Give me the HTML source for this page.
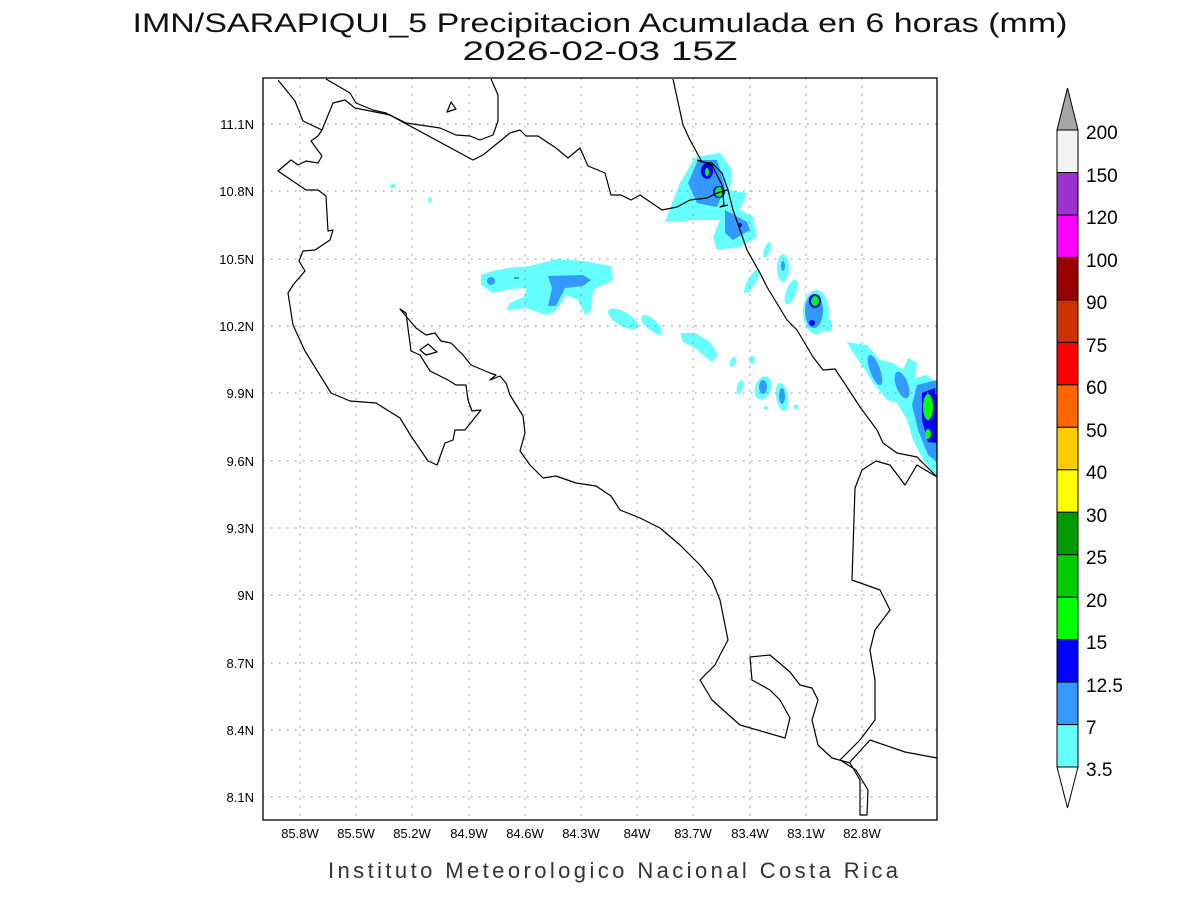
<!DOCTYPE html>
<html><head><meta charset="utf-8"><style>
html,body{margin:0;padding:0;background:#fff;}
svg{display:block;font-family:"Liberation Sans",sans-serif;}
</style></head><body>
<svg width="1200" height="900" viewBox="0 0 1200 900" xmlns="http://www.w3.org/2000/svg">
<rect width="1200" height="900" fill="#fff"/>
<text x="600" y="32" font-size="27" text-anchor="middle" textLength="935" lengthAdjust="spacingAndGlyphs" fill="#111">IMN/SARAPIQUI_5 Precipitacion Acumulada en 6 horas (mm)</text>
<text x="600" y="60" font-size="27" text-anchor="middle" textLength="275" lengthAdjust="spacingAndGlyphs" fill="#111">2026-02-03 15Z</text>
<text x="613" y="878" font-size="22" text-anchor="middle" textLength="570" lengthAdjust="spacing" fill="#333">Instituto Meteorologico Nacional Costa Rica</text>

<g stroke="none">
<path fill="#66ffff" d="M481,275 L493,271 508,268 530,266 556,259 583,261 611,266 613,280 593,290 591,311 585,315 578,300 566,295 556,311 546,315 526,308 506,310 510,303 525,296 526,288 510,289 493,293 481,285 Z"/>
<path fill="#3399ff" d="M548,276 L583,275 591,280 583,286 565,288 556,306 548,306 552,288 Z"/>
<circle cx="491" cy="281" r="4" fill="#3399ff"/>
<rect x="514" y="277" width="5" height="2" fill="#3399ff"/>
<ellipse cx="623" cy="319" rx="17" ry="7" transform="rotate(30 623 319)" fill="#66ffff"/>
<ellipse cx="652" cy="325" rx="13" ry="5" transform="rotate(45 652 325)" fill="#66ffff"/>
<ellipse cx="393" cy="186" rx="3" ry="2" fill="#66ffff"/>
<ellipse cx="430" cy="200" rx="2" ry="3" fill="#66ffff"/>
<path fill="#66ffff" d="M665,222 L672,203 680,183 695,157 720,153 732,170 730,190 747,193 740,210 753,217 757,237 740,247 717,250 713,237 720,220 697,220 Z"/>
<path fill="#3399ff" d="M688,183 L698,160 717,160 725,187 717,207 697,203 Z"/>
<path fill="#3399ff" d="M725,210 L747,222 750,230 733,240 725,233 Z"/>
<ellipse cx="707" cy="171" rx="6" ry="8" fill="#0000ff"/>
<ellipse cx="707" cy="172" rx="2" ry="4" fill="#00ff00"/>
<ellipse cx="719" cy="192" rx="6" ry="6" fill="#0000ff"/>
<ellipse cx="719" cy="192" rx="4" ry="5" fill="#00ff00"/>
<circle cx="740" cy="225" r="2" fill="#0000ff"/>
<ellipse cx="767" cy="250" rx="3" ry="8" transform="rotate(20 767 250)" fill="#66ffff"/>
<ellipse cx="783" cy="268" rx="6" ry="14" fill="#66ffff"/>
<ellipse cx="783" cy="266" rx="2" ry="5" fill="#3399ff"/>
<ellipse cx="752" cy="281" rx="4" ry="14" transform="rotate(30 752 281)" fill="#66ffff"/>
<ellipse cx="791" cy="292" rx="5" ry="13" transform="rotate(20 791 292)" fill="#66ffff"/>
<ellipse cx="816" cy="312" rx="13" ry="22" fill="#66ffff"/>
<ellipse cx="827" cy="325" rx="5" ry="7" fill="#66ffff"/>
<ellipse cx="814" cy="311" rx="9" ry="17" fill="#3399ff"/>
<ellipse cx="815" cy="301" rx="6" ry="7" fill="#0000ff"/>
<ellipse cx="815" cy="301" rx="4" ry="5" fill="#00ff00"/>
<circle cx="812" cy="323" r="3" fill="#0000ff"/>
<ellipse cx="651" cy="324" rx="12" ry="5" transform="rotate(35 651 324)" fill="#66ffff"/>
<path fill="#66ffff" d="M680,333 L695,333 710,342 718,355 712,362 703,355 695,348 683,342 Z"/>
<ellipse cx="733" cy="362" rx="3" ry="5" transform="rotate(20 733 362)" fill="#66ffff"/>
<ellipse cx="752" cy="360" rx="3" ry="4" fill="#66ffff"/>
<ellipse cx="740" cy="387" rx="3" ry="7" transform="rotate(15 740 387)" fill="#66ffff"/>
<ellipse cx="763" cy="388" rx="8" ry="12" transform="rotate(20 763 388)" fill="#66ffff"/>
<ellipse cx="763" cy="387" rx="4" ry="7" fill="#3399ff"/>
<ellipse cx="782" cy="397" rx="6" ry="14" transform="rotate(-10 782 397)" fill="#66ffff"/>
<ellipse cx="782" cy="396" rx="3" ry="8" fill="#3399ff"/>
<circle cx="766" cy="408" r="2" fill="#66ffff"/>
<circle cx="796" cy="407" r="2.5" fill="#66ffff"/>
<path fill="#66ffff" d="M847,342 L867,345 880,360 893,363 903,370 908,358 917,363 915,378 927,375 937,383 937,477 923,460 913,440 907,420 897,403 887,400 873,383 863,367 853,353 Z"/>
<ellipse cx="875" cy="370" rx="5" ry="16" transform="rotate(-20 875 370)" fill="#3399ff"/>
<ellipse cx="902" cy="385" rx="6" ry="14" transform="rotate(-20 902 385)" fill="#3399ff"/>
<path fill="#3399ff" d="M917,385 L937,380 937,462 928,455 918,430 912,405 Z"/>
<path fill="#0000ff" d="M922,393 L935,388 937,400 937,443 928,442 922,420 Z"/>
<ellipse cx="928" cy="407" rx="5" ry="13" fill="#00ff00"/>
<ellipse cx="928" cy="434" rx="3" ry="5" fill="#00ff00"/>
</g>

<g stroke="#999" stroke-width="1.2" stroke-dasharray="1.5,6.5" fill="none">
<path d="M300,78V820 M356,78V820 M412,78V820 M469,78V820 M525,78V820 M581,78V820 M637,78V820 M693,78V820 M750,78V820 M806,78V820 M862,78V820"/>
<path d="M263,124H937 M263,191H937 M263,259H937 M263,326H937 M263,393H937 M263,461H937 M263,528H937 M263,595H937 M263,663H937 M263,730H937 M263,797H937"/>
</g>

<g stroke="#000" stroke-width="1.2" fill="none" stroke-linejoin="round">
<path d="M278,80 L295,101 303,121 322,130 333,103 345,100 355,108 370,111 390,115 406,123 420,125 440,128 456,135 470,136 480,140 493,135 498,121 498,95 491,79"/>
<path d="M326,79 L350,93 356,103 373,110 386,113 473,160 483,155 510,133 520,130 526,136 538,136 556,148 568,158 580,148 588,166 605,173 611,195 621,195 631,200 640,195 662,210 677,207 690,200 707,198 717,193 727,190"/>
<path d="M673,79 L683,125 690,140 702,162 712,163 722,173 728,190 733,210 740,230 747,250 760,273 767,287 787,320 797,330 813,357 823,370 835,369 847,387 860,407 877,430 883,443 897,453 917,457 937,477"/>
<path d="M697,160 L712,165 722,185 724,205 720,207 728,205"/>
<path d="M322,130 L318,136 311,141 322,156 318,163 306,161 298,165 291,160 278,171 306,190 318,190 326,196 328,231 333,230 330,240 315,250 303,251 299,261 305,271 293,285 288,293 293,325 305,351 331,393 350,401 376,403 400,418 411,436 428,461 437,465 445,443 453,440 455,430 465,430 481,410 472,411 468,400 466,385 456,385 448,380 430,371 420,355 411,351 406,313 400,309 416,328 426,335 435,333 441,341 451,343 463,355 471,365 490,373 496,375 490,380 500,376 506,383 510,395 523,416 525,433 520,451 530,465 543,478 556,476 576,483 596,486 611,496 620,510 640,518 660,528 680,545 700,565 712,580 720,600 725,625 728,640 720,655 715,665 700,680 712,700 740,725 785,738 790,718 780,700 770,690 752,680 750,657 770,655 790,672 800,685 812,688 818,700 812,720 818,745 832,758 850,763 860,780 860,815 867,815 868,790 856,770 840,760 860,740 875,720 875,680 870,650 875,630 890,610 880,590 852,580 855,488 862,470 876,461 890,465 905,485 917,465 937,477"/>
<path d="M850,762 L870,740 905,752 937,758"/>
<path d="M420,350 L428,344 437,352 426,355 Z"/>
<path d="M447,112 L451,102 456,109 Z"/>
</g>

<rect x="263" y="78" width="674" height="742" fill="none" stroke="#000" stroke-width="1.3"/>

<g font-size="13" fill="#000" text-anchor="middle">
<text x="300" y="838">85.8W</text><text x="356" y="838">85.5W</text><text x="412" y="838">85.2W</text><text x="469" y="838">84.9W</text><text x="525" y="838">84.6W</text><text x="581" y="838">84.3W</text><text x="637" y="838">84W</text><text x="693" y="838">83.7W</text><text x="750" y="838">83.4W</text><text x="806" y="838">83.1W</text><text x="862" y="838">82.8W</text>
</g>
<g font-size="13" fill="#000" text-anchor="end">
<text x="254" y="129">11.1N</text><text x="254" y="196">10.8N</text><text x="254" y="264">10.5N</text><text x="254" y="331">10.2N</text><text x="254" y="398">9.9N</text><text x="254" y="466">9.6N</text><text x="254" y="533">9.3N</text><text x="254" y="600">9N</text><text x="254" y="668">8.7N</text><text x="254" y="735">8.4N</text><text x="254" y="802">8.1N</text>
</g>

<g stroke="#000" stroke-width="1">
<polygon points="1057,130 1078,130 1067.5,88" fill="#a6a6a6"/>
<rect x="1057" y="130" width="21" height="42.5" fill="#f2f2f2"/>
<rect x="1057" y="172.5" width="21" height="42.5" fill="#9933cc"/>
<rect x="1057" y="215" width="21" height="42.5" fill="#ff00ff"/>
<rect x="1057" y="257.4" width="21" height="42.5" fill="#990000"/>
<rect x="1057" y="299.9" width="21" height="42.5" fill="#cc3300"/>
<rect x="1057" y="342.4" width="21" height="42.5" fill="#ff0000"/>
<rect x="1057" y="384.8" width="21" height="42.5" fill="#ff6600"/>
<rect x="1057" y="427.3" width="21" height="42.5" fill="#ffcc00"/>
<rect x="1057" y="469.8" width="21" height="42.5" fill="#ffff00"/>
<rect x="1057" y="512.2" width="21" height="42.5" fill="#009900"/>
<rect x="1057" y="554.7" width="21" height="42.5" fill="#00cc00"/>
<rect x="1057" y="597.2" width="21" height="42.5" fill="#00ff00"/>
<rect x="1057" y="639.6" width="21" height="42.5" fill="#0000ff"/>
<rect x="1057" y="682.1" width="21" height="42.5" fill="#3399ff"/>
<rect x="1057" y="724.6" width="21" height="42.4" fill="#66ffff"/>
<polygon points="1057,767 1078,767 1067.5,808" fill="#fff"/>
</g>
<g font-size="19" fill="#000">
<text x="1086" y="139">200</text><text x="1086" y="182">150</text><text x="1086" y="224">120</text><text x="1086" y="267">100</text><text x="1086" y="309">90</text><text x="1086" y="352">75</text><text x="1086" y="394">60</text><text x="1086" y="437">50</text><text x="1086" y="479">40</text><text x="1086" y="522">30</text><text x="1086" y="564">25</text><text x="1086" y="607">20</text><text x="1086" y="649">15</text><text x="1086" y="692">12.5</text><text x="1086" y="734">7</text><text x="1086" y="776">3.5</text>
</g>
</svg>
</body></html>
